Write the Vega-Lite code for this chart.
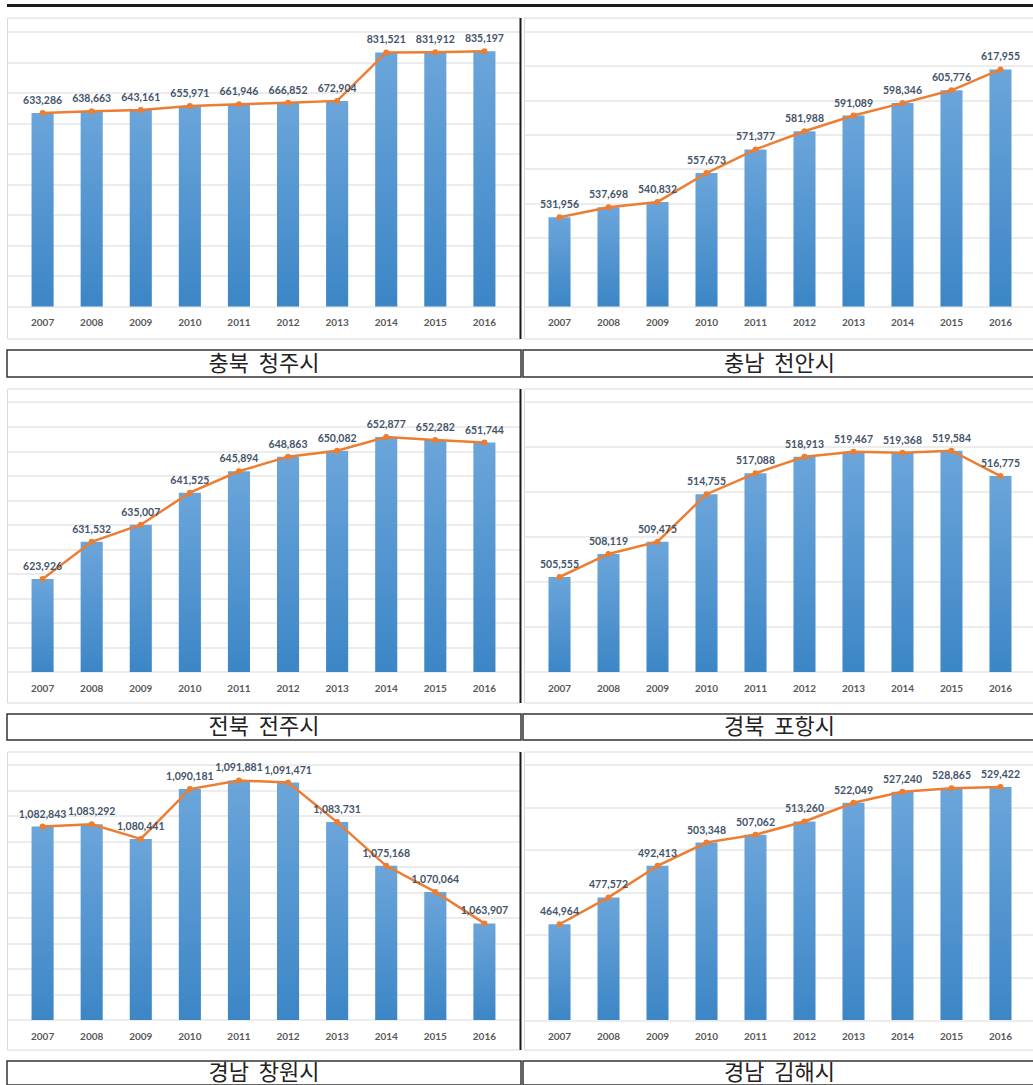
{
  "$schema": "https://vega.github.io/schema/vega-lite/v6.json",
  "padding": {"left": 6, "top": 4, "right": 0, "bottom": 0},
  "background": "white",
  "spacing": 9.5,
  "data": {"values": [
    {"city": "충북 청주시", "year": "2007", "pop": 633286},
    {"city": "충북 청주시", "year": "2008", "pop": 638663},
    {"city": "충북 청주시", "year": "2009", "pop": 643161},
    {"city": "충북 청주시", "year": "2010", "pop": 655971},
    {"city": "충북 청주시", "year": "2011", "pop": 661946},
    {"city": "충북 청주시", "year": "2012", "pop": 666852},
    {"city": "충북 청주시", "year": "2013", "pop": 672904},
    {"city": "충북 청주시", "year": "2014", "pop": 831521},
    {"city": "충북 청주시", "year": "2015", "pop": 831912},
    {"city": "충북 청주시", "year": "2016", "pop": 835197},
    {"city": "충남 천안시", "year": "2007", "pop": 531956},
    {"city": "충남 천안시", "year": "2008", "pop": 537698},
    {"city": "충남 천안시", "year": "2009", "pop": 540832},
    {"city": "충남 천안시", "year": "2010", "pop": 557673},
    {"city": "충남 천안시", "year": "2011", "pop": 571377},
    {"city": "충남 천안시", "year": "2012", "pop": 581988},
    {"city": "충남 천안시", "year": "2013", "pop": 591089},
    {"city": "충남 천안시", "year": "2014", "pop": 598346},
    {"city": "충남 천안시", "year": "2015", "pop": 605776},
    {"city": "충남 천안시", "year": "2016", "pop": 617955},
    {"city": "전북 전주시", "year": "2007", "pop": 623926},
    {"city": "전북 전주시", "year": "2008", "pop": 631532},
    {"city": "전북 전주시", "year": "2009", "pop": 635007},
    {"city": "전북 전주시", "year": "2010", "pop": 641525},
    {"city": "전북 전주시", "year": "2011", "pop": 645894},
    {"city": "전북 전주시", "year": "2012", "pop": 648863},
    {"city": "전북 전주시", "year": "2013", "pop": 650082},
    {"city": "전북 전주시", "year": "2014", "pop": 652877},
    {"city": "전북 전주시", "year": "2015", "pop": 652282},
    {"city": "전북 전주시", "year": "2016", "pop": 651744},
    {"city": "경북 포항시", "year": "2007", "pop": 505555},
    {"city": "경북 포항시", "year": "2008", "pop": 508119},
    {"city": "경북 포항시", "year": "2009", "pop": 509475},
    {"city": "경북 포항시", "year": "2010", "pop": 514755},
    {"city": "경북 포항시", "year": "2011", "pop": 517088},
    {"city": "경북 포항시", "year": "2012", "pop": 518913},
    {"city": "경북 포항시", "year": "2013", "pop": 519467},
    {"city": "경북 포항시", "year": "2014", "pop": 519368},
    {"city": "경북 포항시", "year": "2015", "pop": 519584},
    {"city": "경북 포항시", "year": "2016", "pop": 516775},
    {"city": "경남 창원시", "year": "2007", "pop": 1082843},
    {"city": "경남 창원시", "year": "2008", "pop": 1083292},
    {"city": "경남 창원시", "year": "2009", "pop": 1080441},
    {"city": "경남 창원시", "year": "2010", "pop": 1090181},
    {"city": "경남 창원시", "year": "2011", "pop": 1091881},
    {"city": "경남 창원시", "year": "2012", "pop": 1091471},
    {"city": "경남 창원시", "year": "2013", "pop": 1083731},
    {"city": "경남 창원시", "year": "2014", "pop": 1075168},
    {"city": "경남 창원시", "year": "2015", "pop": 1070064},
    {"city": "경남 창원시", "year": "2016", "pop": 1063907},
    {"city": "경남 김해시", "year": "2007", "pop": 464964},
    {"city": "경남 김해시", "year": "2008", "pop": 477572},
    {"city": "경남 김해시", "year": "2009", "pop": 492413},
    {"city": "경남 김해시", "year": "2010", "pop": 503348},
    {"city": "경남 김해시", "year": "2011", "pop": 507062},
    {"city": "경남 김해시", "year": "2012", "pop": 513260},
    {"city": "경남 김해시", "year": "2013", "pop": 522049},
    {"city": "경남 김해시", "year": "2014", "pop": 527240},
    {"city": "경남 김해시", "year": "2015", "pop": 528865},
    {"city": "경남 김해시", "year": "2016", "pop": 529422}
  ]},
  "vconcat": [
    {
      "width": 1027, "height": 3,
      "data": {"values": [{"t": ""}]},
      "mark": {"type": "text", "fontSize": 0},
      "encoding": {"text": {"field": "t"}},
      "view": {"fill": "#1a1a1a", "stroke": null}
    },
    {
      "spacing": 2,
      "hconcat": [
        {
          "width": 513, "height": 321,
          "view": {"stroke": "#d9d9d9", "strokeWidth": 1},
          "transform": [{"filter": {"field": "city", "equal": "충북 청주시"}}],
          "encoding": {
            "x": {"field": "year", "type": "ordinal", "scale": {"paddingInner": 0.55, "paddingOuter": 0.5},
              "axis": {"title": null, "domain": false, "ticks": false, "labelAngle": 0, "labelPadding": 11, "offset": -32, "labelFont": "Lato", "labelFontSize": 10, "labelFontWeight": "bold", "labelColor": "#595959", "minExtent": 0}},
            "y": {"field": "pop", "type": "quantitative", "scale": {"domain": [-104727, 945818], "nice": false, "zero": false},
              "axis": {"title": null, "orient": "right", "labels": false, "ticks": false, "domain": true, "domainColor": "#1a1a1a", "domainWidth": 2, "grid": true, "gridColor": "#d9d9d9", "gridWidth": 1, "values": [0, 100000, 200000, 300000, 400000, 500000, 600000, 700000, 800000, 900000], "minExtent": 0, "maxExtent": 0}}
          },
          "layer": [
            {"mark": {"type": "bar", "fill": {"gradient": "linear", "x1": 0, "y1": 0, "x2": 0, "y2": 1, "stops": [{"offset": 0, "color": "#6ba5da"}, {"offset": 1, "color": "#3c86c6"}]}, "stroke": null}, "encoding": {"y2": {"datum": 0}}},
            {"mark": {"type": "line", "color": "#ed7d31", "strokeWidth": 2.5}, "encoding": {}},
            {"mark": {"type": "point", "filled": true, "size": 36, "color": "#ed7d31", "opacity": 1}, "encoding": {}},
            {"mark": {"type": "text", "dy": -12, "font": "Lato", "fontSize": 10.5, "fontWeight": "bold", "color": "#44546a"}, "encoding": {"text": {"field": "pop", "type": "quantitative", "format": ","}}}
          ]
        },
        {
          "width": 512, "height": 321,
          "view": {"stroke": "#d9d9d9", "strokeWidth": 1},
          "transform": [{"filter": {"field": "city", "equal": "충남 천안시"}}],
          "encoding": {
            "x": {"field": "year", "type": "ordinal", "scale": {"paddingInner": 0.55, "paddingOuter": 0.5},
              "axis": {"title": null, "domain": false, "ticks": false, "labelAngle": 0, "labelPadding": 11, "offset": -32, "labelFont": "Lato", "labelFontSize": 10, "labelFontWeight": "bold", "labelColor": "#595959", "minExtent": 0}},
            "y": {"field": "pop", "type": "quantitative", "scale": {"domain": [461382, 648145], "nice": false, "zero": false},
              "axis": {"title": null, "orient": "left", "labels": false, "ticks": false, "domain": false, "grid": true, "gridColor": "#d9d9d9", "gridWidth": 1, "values": [480000, 500000, 520000, 540000, 560000, 580000, 600000, 620000, 640000], "minExtent": 0, "maxExtent": 0}}
          },
          "layer": [
            {"mark": {"type": "bar", "fill": {"gradient": "linear", "x1": 0, "y1": 0, "x2": 0, "y2": 1, "stops": [{"offset": 0, "color": "#6ba5da"}, {"offset": 1, "color": "#3c86c6"}]}, "stroke": null}, "encoding": {"y2": {"datum": 480000}}},
            {"mark": {"type": "line", "color": "#ed7d31", "strokeWidth": 2.5}, "encoding": {}},
            {"mark": {"type": "point", "filled": true, "size": 36, "color": "#ed7d31", "opacity": 1}, "encoding": {}},
            {"mark": {"type": "text", "dy": -12, "font": "Lato", "fontSize": 10.5, "fontWeight": "bold", "color": "#44546a"}, "encoding": {"text": {"field": "pop", "type": "quantitative", "format": ","}}}
          ]
        }
      ]
    },
    {
      "spacing": 0,
      "hconcat": [
        {"width": 514, "height": 27, "data": {"values": [{"t": "충북\u00a0\u00a0청주시"}]}, "mark": {"type": "text", "font": "Noto Sans CJK KR", "fontSize": 22, "color": "#222"}, "encoding": {"text": {"field": "t"}}, "view": {"stroke": "#333", "strokeWidth": 1.5}},
        {"width": 513, "height": 27, "data": {"values": [{"t": "충남\u00a0\u00a0천안시"}]}, "mark": {"type": "text", "font": "Noto Sans CJK KR", "fontSize": 22, "color": "#222"}, "encoding": {"text": {"field": "t"}}, "view": {"stroke": "#333", "strokeWidth": 1.5}}
      ]
    },
    {
      "spacing": 2,
      "hconcat": [
        {
          "width": 513, "height": 314,
          "view": {"stroke": "#d9d9d9", "strokeWidth": 1},
          "transform": [{"filter": {"field": "city", "equal": "전북 전주시"}}],
          "encoding": {
            "x": {"field": "year", "type": "ordinal", "scale": {"paddingInner": 0.55, "paddingOuter": 0.5},
              "axis": {"title": null, "domain": false, "ticks": false, "labelAngle": 0, "labelPadding": 11, "offset": -30.5, "labelFont": "Lato", "labelFontSize": 10, "labelFontWeight": "bold", "labelColor": "#595959", "minExtent": 0}},
            "y": {"field": "pop", "type": "quantitative", "scale": {"domain": [598787, 662750], "nice": false, "zero": false},
              "axis": {"title": null, "orient": "right", "labels": false, "ticks": false, "domain": true, "domainColor": "#1a1a1a", "domainWidth": 2, "grid": true, "gridColor": "#d9d9d9", "gridWidth": 1, "values": [605000, 610000, 615000, 620000, 625000, 630000, 635000, 640000, 645000, 650000, 655000, 660000], "minExtent": 0, "maxExtent": 0}}
          },
          "layer": [
            {"mark": {"type": "bar", "fill": {"gradient": "linear", "x1": 0, "y1": 0, "x2": 0, "y2": 1, "stops": [{"offset": 0, "color": "#6ba5da"}, {"offset": 1, "color": "#3c86c6"}]}, "stroke": null}, "encoding": {"y2": {"datum": 605000}}},
            {"mark": {"type": "line", "color": "#ed7d31", "strokeWidth": 2.5}, "encoding": {}},
            {"mark": {"type": "point", "filled": true, "size": 36, "color": "#ed7d31", "opacity": 1}, "encoding": {}},
            {"mark": {"type": "text", "dy": -12, "font": "Lato", "fontSize": 10.5, "fontWeight": "bold", "color": "#44546a"}, "encoding": {"text": {"field": "pop", "type": "quantitative", "format": ","}}}
          ]
        },
        {
          "width": 512, "height": 314,
          "view": {"stroke": "#d9d9d9", "strokeWidth": 1},
          "transform": [{"filter": {"field": "city", "equal": "경북 포항시"}}],
          "encoding": {
            "x": {"field": "year", "type": "ordinal", "scale": {"paddingInner": 0.55, "paddingOuter": 0.5},
              "axis": {"title": null, "domain": false, "ticks": false, "labelAngle": 0, "labelPadding": 11, "offset": -30.5, "labelFont": "Lato", "labelFontSize": 10, "labelFontWeight": "bold", "labelColor": "#595959", "minExtent": 0}},
            "y": {"field": "pop", "type": "quantitative", "scale": {"domain": [491611, 526500], "nice": false, "zero": false},
              "axis": {"title": null, "orient": "left", "labels": false, "ticks": false, "domain": false, "grid": true, "gridColor": "#d9d9d9", "gridWidth": 1, "values": [495000, 500000, 505000, 510000, 515000, 520000, 525000], "minExtent": 0, "maxExtent": 0}}
          },
          "layer": [
            {"mark": {"type": "bar", "fill": {"gradient": "linear", "x1": 0, "y1": 0, "x2": 0, "y2": 1, "stops": [{"offset": 0, "color": "#6ba5da"}, {"offset": 1, "color": "#3c86c6"}]}, "stroke": null}, "encoding": {"y2": {"datum": 495000}}},
            {"mark": {"type": "line", "color": "#ed7d31", "strokeWidth": 2.5}, "encoding": {}},
            {"mark": {"type": "point", "filled": true, "size": 36, "color": "#ed7d31", "opacity": 1}, "encoding": {}},
            {"mark": {"type": "text", "dy": -12, "font": "Lato", "fontSize": 10.5, "fontWeight": "bold", "color": "#44546a"}, "encoding": {"text": {"field": "pop", "type": "quantitative", "format": ","}}}
          ]
        }
      ]
    },
    {
      "spacing": 0,
      "hconcat": [
        {"width": 514, "height": 26, "data": {"values": [{"t": "전북\u00a0\u00a0전주시"}]}, "mark": {"type": "text", "font": "Noto Sans CJK KR", "fontSize": 22, "color": "#222"}, "encoding": {"text": {"field": "t"}}, "view": {"stroke": "#333", "strokeWidth": 1.5}},
        {"width": 513, "height": 26, "data": {"values": [{"t": "경북\u00a0\u00a0포항시"}]}, "mark": {"type": "text", "font": "Noto Sans CJK KR", "fontSize": 22, "color": "#222"}, "encoding": {"text": {"field": "t"}}, "view": {"stroke": "#333", "strokeWidth": 1.5}}
      ]
    },
    {
      "spacing": 2,
      "hconcat": [
        {
          "width": 513, "height": 298,
          "view": {"stroke": "#d9d9d9", "strokeWidth": 1},
          "transform": [{"filter": {"field": "city", "equal": "경남 창원시"}}],
          "encoding": {
            "x": {"field": "year", "type": "ordinal", "scale": {"paddingInner": 0.55, "paddingOuter": 0.5},
              "axis": {"title": null, "domain": false, "ticks": false, "labelAngle": 0, "labelPadding": 11, "offset": -29.5, "labelFont": "Lato", "labelFontSize": 10, "labelFontWeight": "bold", "labelColor": "#595959", "minExtent": 0}},
            "y": {"field": "pop", "type": "quantitative", "scale": {"domain": [1039227, 1097544], "nice": false, "zero": false},
              "axis": {"title": null, "orient": "right", "labels": false, "ticks": false, "domain": true, "domainColor": "#1a1a1a", "domainWidth": 2, "grid": true, "gridColor": "#d9d9d9", "gridWidth": 1, "values": [1045000, 1050000, 1055000, 1060000, 1065000, 1070000, 1075000, 1080000, 1085000, 1090000, 1095000], "minExtent": 0, "maxExtent": 0}}
          },
          "layer": [
            {"mark": {"type": "bar", "fill": {"gradient": "linear", "x1": 0, "y1": 0, "x2": 0, "y2": 1, "stops": [{"offset": 0, "color": "#6ba5da"}, {"offset": 1, "color": "#3c86c6"}]}, "stroke": null}, "encoding": {"y2": {"datum": 1045000}}},
            {"mark": {"type": "line", "color": "#ed7d31", "strokeWidth": 2.5}, "encoding": {}},
            {"mark": {"type": "point", "filled": true, "size": 36, "color": "#ed7d31", "opacity": 1}, "encoding": {}},
            {"mark": {"type": "text", "dy": -12, "font": "Lato", "fontSize": 10.5, "fontWeight": "bold", "color": "#44546a"}, "encoding": {"text": {"field": "pop", "type": "quantitative", "format": ","}}}
          ]
        },
        {
          "width": 512, "height": 298,
          "view": {"stroke": "#d9d9d9", "strokeWidth": 1},
          "transform": [{"filter": {"field": "city", "equal": "경남 김해시"}}],
          "encoding": {
            "x": {"field": "year", "type": "ordinal", "scale": {"paddingInner": 0.55, "paddingOuter": 0.5},
              "axis": {"title": null, "domain": false, "ticks": false, "labelAngle": 0, "labelPadding": 11, "offset": -29.5, "labelFont": "Lato", "labelFontSize": 10, "labelFontWeight": "bold", "labelColor": "#595959", "minExtent": 0}},
            "y": {"field": "pop", "type": "quantitative", "scale": {"domain": [406145, 546106], "nice": false, "zero": false},
              "axis": {"title": null, "orient": "left", "labels": false, "ticks": false, "domain": false, "grid": true, "gridColor": "#d9d9d9", "gridWidth": 1, "values": [420000, 440000, 460000, 480000, 500000, 520000, 540000], "minExtent": 0, "maxExtent": 0}}
          },
          "layer": [
            {"mark": {"type": "bar", "fill": {"gradient": "linear", "x1": 0, "y1": 0, "x2": 0, "y2": 1, "stops": [{"offset": 0, "color": "#6ba5da"}, {"offset": 1, "color": "#3c86c6"}]}, "stroke": null}, "encoding": {"y2": {"datum": 420000}}},
            {"mark": {"type": "line", "color": "#ed7d31", "strokeWidth": 2.5}, "encoding": {}},
            {"mark": {"type": "point", "filled": true, "size": 36, "color": "#ed7d31", "opacity": 1}, "encoding": {}},
            {"mark": {"type": "text", "dy": -12, "font": "Lato", "fontSize": 10.5, "fontWeight": "bold", "color": "#44546a"}, "encoding": {"text": {"field": "pop", "type": "quantitative", "format": ","}}}
          ]
        }
      ]
    },
    {
      "spacing": 0,
      "hconcat": [
        {"width": 514, "height": 24, "data": {"values": [{"t": "경남\u00a0\u00a0창원시"}]}, "mark": {"type": "text", "font": "Noto Sans CJK KR", "fontSize": 22, "color": "#222"}, "encoding": {"text": {"field": "t"}}, "view": {"stroke": "#333", "strokeWidth": 1.5}},
        {"width": 513, "height": 24, "data": {"values": [{"t": "경남\u00a0\u00a0김해시"}]}, "mark": {"type": "text", "font": "Noto Sans CJK KR", "fontSize": 22, "color": "#222"}, "encoding": {"text": {"field": "t"}}, "view": {"stroke": "#333", "strokeWidth": 1.5}}
      ]
    }
  ]
}
